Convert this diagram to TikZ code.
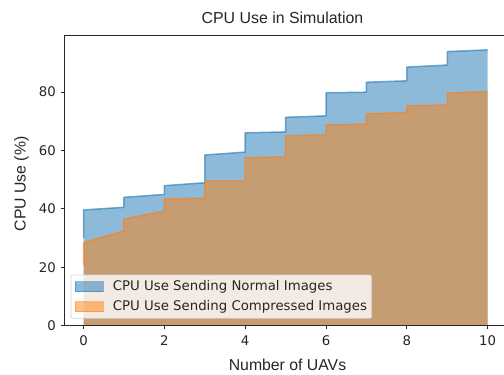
\documentclass[tikz,border=0pt]{standalone}
\usepackage{fontspec}
\setmainfont{DejaVu Sans}
\newfontfamily\labfont{Liberation Sans}
\definecolor{cA}{RGB}{31,119,180}
\definecolor{cB}{RGB}{255,127,14}
\definecolor{spinec}{RGB}{40,40,40}
\begin{document}
\begin{tikzpicture}[x=1pt,y=1pt,
  ticklab/.style={font=\fontsize{13.3}{15}\selectfont, text=black!85, inner sep=0pt},
  axislab/.style={font=\labfont\fontsize{15.8}{18}\selectfont, text=black!85, inner sep=0pt},
  spine/.style={draw=spinec, line width=0.8pt},
  tickmark/.style={draw=spinec, line width=0.8pt},
  bluefill/.style={fill=cA, fill opacity=0.5, draw=none},
  orangefill/.style={fill=cB, fill opacity=0.5, draw=none},
  blueline/.style={draw=cA, draw opacity=0.6, line width=1.5pt, line join=round},
  orangeline/.style={draw=cB, draw opacity=0.6, line width=1.5pt, line join=round},
  legbox/.style={fill=white, fill opacity=0.8, draw=black!20, draw opacity=0.8, rounded corners=2pt, line width=0.8pt},
  legtext/.style={font=\fontsize{13.3}{15}\selectfont, text=black!85, inner sep=0pt, anchor=west}
]
\useasboundingbox (0,0) rectangle (504,375);
\fill[white] (0,0) rectangle (504,375);

\begin{scope}[shift={(83.5,49.4)}, x=40.42pt, y=2.921pt]
  \path[bluefill] (0,0) -- (0,39.6) -- (1,40.5) -- (1,43.9) -- (2,44.9) -- (2,47.9) -- (3,48.9) -- (3,58.4) -- (4,59.4) -- (4,66) -- (5,66.3) -- (5,71.3) -- (6,71.8) -- (6,79.7) -- (7,79.9) -- (7,83.3) -- (8,83.8) -- (8,88.5) -- (9,89.2) -- (9,93.8) -- (10,94.4) -- (10,0) -- cycle;
  \path[blueline] (0,30) -- (0,39.6) -- (1,40.5) -- (1,43.9) -- (2,44.9) -- (2,47.9) -- (3,48.9) -- (3,58.4) -- (4,59.4) -- (4,66) -- (5,66.3) -- (5,71.3) -- (6,71.8) -- (6,79.7) -- (7,79.9) -- (7,83.3) -- (8,83.8) -- (8,88.5) -- (9,89.2) -- (9,93.8) -- (10,94.4);
  \path[orangefill] (0,0) -- (0,28.4) -- (1,32.4) -- (1,36.5) -- (2,39.2) -- (2,43.4) -- (3,43.6) -- (3,49.5) -- (4,49.6) -- (4,57.5) -- (5,57.8) -- (5,65.0) -- (6,65.3) -- (6,68.7) -- (7,69.0) -- (7,72.5) -- (8,72.9) -- (8,75.3) -- (9,75.5) -- (9,79.6) -- (10,80.1) -- (10,0) -- cycle;
  \path[orangeline] (0,20.7) -- (0,28.4) -- (1,32.4) -- (1,36.5) -- (2,39.2) -- (2,43.4) -- (3,43.6) -- (3,49.5) -- (4,49.6) -- (4,57.5) -- (5,57.8) -- (5,65.0) -- (6,65.3) -- (6,68.7) -- (7,69.0) -- (7,72.5) -- (8,72.9) -- (8,75.3) -- (9,75.5) -- (9,79.6) -- (10,80.1);
\end{scope}

% spines
\draw[spine] (504,340) -- (64,340) -- (64,49.4) -- (504,49.4);

% x ticks
\foreach \v in {0,2,4,6,8,10} {
  \draw[tickmark] ({83.5+40.42*\v},49.4) -- ({83.5+40.42*\v},45.9);
  \node[ticklab, anchor=base] (xt\v) at ({83.5+40.42*\v},29) {\v};
}
% y ticks
\foreach \v in {0,20,40,60,80} {
  \draw[tickmark] (64,{49.4+2.921*\v}) -- (60.5,{49.4+2.921*\v});
  \node[ticklab, anchor=east] (yt\v) at (56,{49.4+2.921*\v}) {\v};
}

\node[axislab] (xlabel) at (287.5,10) {Number of UAVs};
\node[axislab, rotate=90] (ylabel) at (21.5,191) {CPU Use (\%)};
\node[font=\labfont\fontsize{15.9}{18}\selectfont, text=black!85, inner sep=0pt] (title) at (282.5,357.3) {CPU Use in Simulation};

% legend
\path[legbox] (71,56.7) rectangle (371.7,100);
\path[fill=cA, fill opacity=0.5, draw=cA, draw opacity=0.5, line width=1pt] (75,83.3) rectangle (103.3,93.3);
\path[fill=cB, fill opacity=0.5, draw=cB, draw opacity=0.5, line width=1pt] (75,63.3) rectangle (103.3,73.3);
\node[legtext] (leg1) at (112.7,88) {CPU Use Sending Normal Images};
\node[legtext] (leg2) at (112.7,68.3) {CPU Use Sending Compressed Images};
\end{tikzpicture}
\end{document}
